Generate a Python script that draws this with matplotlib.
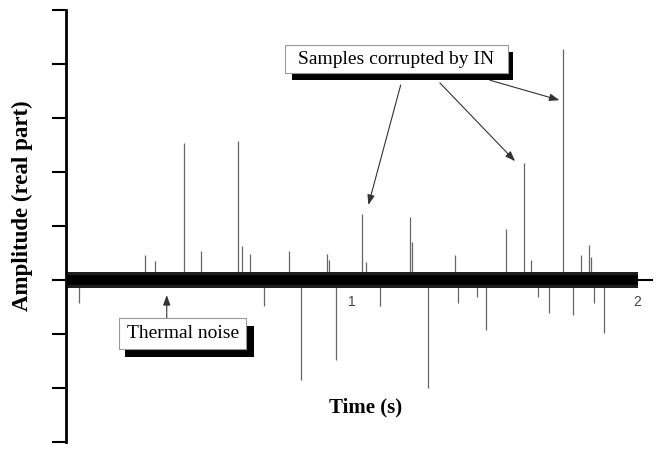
import matplotlib
matplotlib.use("Agg")
import matplotlib.pyplot as plt
from matplotlib.patches import Rectangle

# ---- data ----
spike_times = [0.048, 0.277, 0.312, 0.415, 0.473, 0.604, 0.617, 0.644, 0.693,
               0.783, 0.825, 0.915, 0.922, 0.945, 1.035, 1.050, 1.099, 1.205,
               1.211, 1.266, 1.361, 1.371, 1.440, 1.472, 1.540, 1.603, 1.626,
               1.653, 1.690, 1.738, 1.773, 1.803, 1.830, 1.838, 1.848, 1.883]
spike_amps = [-0.42, 0.46, 0.36, 2.54, 0.54, 2.57, 0.63, 0.49, -0.48,
              0.54, -1.85, 0.48, 0.37, -1.48, 1.23, 0.34, -0.49, 1.16,
              0.71, -2.00, 0.46, -0.43, -0.31, -0.93, 0.94, 2.16, 0.37,
              -0.31, -0.62, 4.27, -0.65, 0.46, 0.65, 0.43, -0.43, -0.99]
noise_t = [0.0, 2.0]
noise_outer = [0.155, 0.155]
noise_inner = [0.10, 0.10]
xtick_vals = [1, 2]
xtick_labels = ["1", "2"]
ytick_vals = [-3, -2, -1, 0, 1, 2, 3, 4, 5]

W, H = 664, 450
fig = plt.figure(figsize=(W / 100, H / 100), dpi=100)
x0, x1 = 65.5, 651.8
y_top, y_bot = 10, 442
ax = fig.add_axes([x0 / W, (H - y_bot) / H, (x1 - x0) / W, (y_bot - y_top) / H])
ax.set_xlim(0, 2.05)
ax.set_ylim(-3, 5)

# thermal noise band
ax.fill_between(noise_t, [-v for v in noise_outer], noise_outer,
                color="#1e1e1e", lw=0, zorder=3)
ax.fill_between(noise_t, [-v for v in noise_inner], noise_inner,
                color="black", lw=0, zorder=4)

# impulsive noise spikes
ax.vlines(spike_times, 0, spike_amps, color="#666666", lw=0.9, zorder=2)

# spines / ticks
for s in ("top", "right"):
    ax.spines[s].set_visible(False)
ax.spines["left"].set_linewidth(2)
ax.spines["bottom"].set_position(("data", 0))
ax.spines["bottom"].set_linewidth(1.5)
ax.set_yticks(ytick_vals)
ax.set_yticklabels([])
ax.tick_params(axis="y", direction="out", length=10, width=1.5)
ax.set_xticks(xtick_vals)
ax.set_xticklabels(xtick_labels, fontsize=10, color="#444444",
                   family="Liberation Sans")
ax.tick_params(axis="x", length=0, pad=11)
ax.spines["left"].set_zorder(5)

# axis labels
fig.text(22 / W, 1 - 206 / H, "Amplitude (real part)", rotation=90,
         ha="center", va="center", fontsize=16.5, fontweight="bold",
         family="Liberation Serif")
fig.text(366 / W, 1 - 407 / H, "Time (s)", ha="center", va="center",
         fontsize=15, fontweight="bold", family="Liberation Serif")


def px_rect(xa, ya, xb, yb, **kw):
    r = Rectangle((xa / W, 1 - yb / H), (xb - xa) / W, (yb - ya) / H,
                  transform=fig.transFigure, **kw)
    fig.patches.append(r)


# annotation boxes with shadows
px_rect(292, 52, 513, 80, facecolor="black", edgecolor="none", zorder=6)
px_rect(285, 45, 507.5, 73, facecolor="white", edgecolor="#999999", lw=0.8, zorder=7)
fig.text(396 / W, 1 - 59.5 / H, "Samples corrupted by IN", ha="center",
         va="center", fontsize=14, family="Liberation Serif", zorder=8)

px_rect(125, 326, 254, 357, facecolor="black", edgecolor="none", zorder=6)
px_rect(119, 318, 246, 348.5, facecolor="white", edgecolor="#999999", lw=0.8, zorder=7)
fig.text(183 / W, 1 - 333.5 / H, "Thermal noise", ha="center",
         va="center", fontsize=14, family="Liberation Serif", zorder=8)

arrow_kw = dict(arrowstyle="-|>,head_length=0.6,head_width=0.22",
                color="#333333", lw=0.8, shrinkA=0, shrinkB=0)
ax.annotate("", xy=(1.059, 1.39), xytext=(1.172, 3.61), arrowprops=arrow_kw, zorder=6)
ax.annotate("", xy=(1.572, 2.20), xytext=(1.309, 3.65), arrowprops=arrow_kw, zorder=6)
ax.annotate("", xy=(1.727, 3.33), xytext=(1.484, 3.70), arrowprops=arrow_kw, zorder=6)
ax.annotate("", xy=(0.354, -0.28), xytext=(0.354, -0.70), arrowprops=arrow_kw, zorder=6)

fig.savefig("out.png", dpi=100)
